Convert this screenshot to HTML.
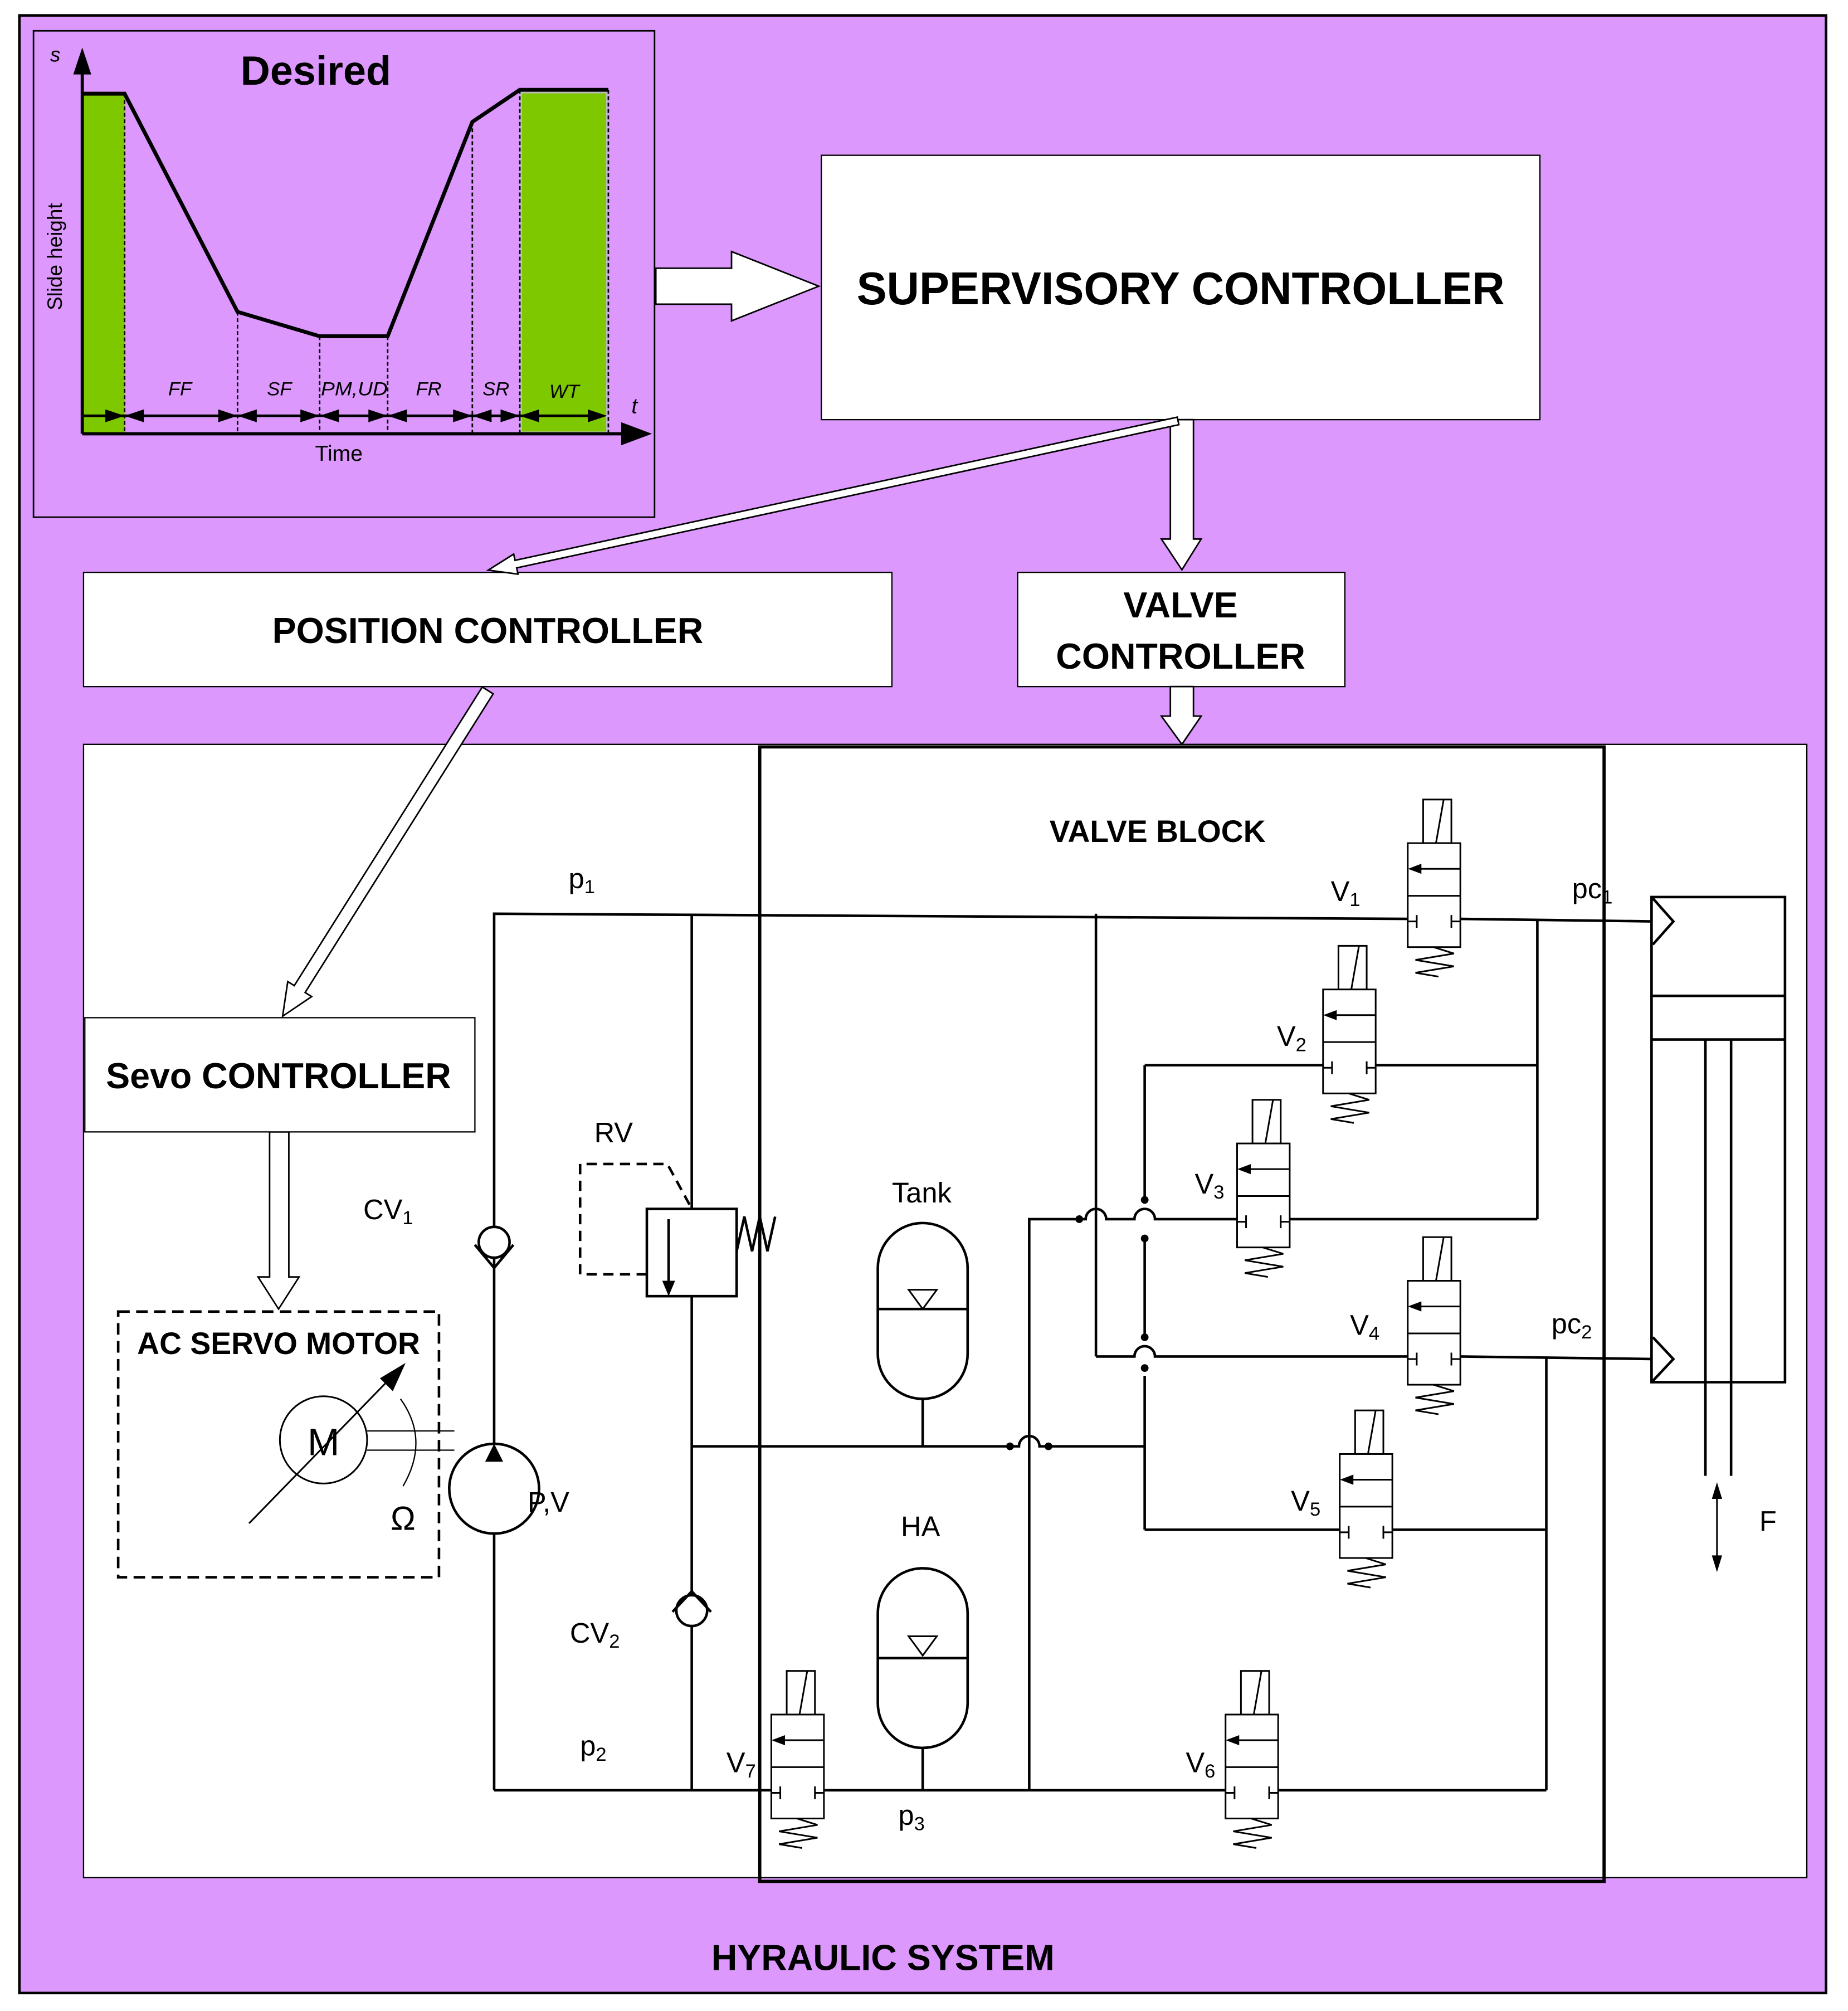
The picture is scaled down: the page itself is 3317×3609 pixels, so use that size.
<!DOCTYPE html>
<html><head><meta charset="utf-8"><style>
html,body{margin:0;padding:0;background:#fff}
svg{display:block}
text{font-family:"Liberation Sans",sans-serif}
.b{font-weight:bold}
</style></head><body>
<svg width="3317" height="3609" viewBox="0 0 1440 1567" xmlns="http://www.w3.org/2000/svg">
<defs>
<g id="valve" fill="#fff" stroke="#000" stroke-width="1.3">
<rect x="12" y="-34" width="22" height="34"/>
<line x1="28" y1="-34" x2="22" y2="0"/>
<rect x="0" y="0" width="41" height="81"/>
<line x1="0" y1="41" x2="41" y2="41"/>
<line x1="6" y1="20" x2="41" y2="20"/>
<polygon points="2,20 10,17 10,23" fill="#000"/>
<line x1="7" y1="56" x2="7" y2="66"/><line x1="34" y1="56" x2="34" y2="66"/>
<line x1="0" y1="61" x2="7" y2="61"/><line x1="34" y1="61" x2="41" y2="61"/>
<polyline fill="none" points="20,81 36,86 6,91 36,96 6,101 24,104"/>
</g>
</defs>
<rect x="0" y="0" width="1440" height="1567" fill="#fff"/>
<rect x="15" y="12" width="1408" height="1541" fill="#dc98fc" stroke="#000" stroke-width="2"/>
<!-- chart -->
<rect x="26" y="24" width="484" height="379" fill="#dc98fc" stroke="#000" stroke-width="1.2"/>
<rect x="64" y="73" width="33" height="264" fill="#7ec800"/>
<rect x="406" y="72" width="67" height="265" fill="#7ec800" stroke="#bbb" stroke-width="1.5"/>
<g stroke="#000" stroke-width="1.2" stroke-dasharray="3,2">
<line x1="97" y1="73" x2="97" y2="337"/><line x1="185" y1="243" x2="185" y2="337"/>
<line x1="249" y1="262" x2="249" y2="337"/><line x1="302" y1="262" x2="302" y2="337"/>
<line x1="368" y1="95" x2="368" y2="337"/><line x1="405" y1="70" x2="405" y2="337"/>
<line x1="474" y1="70" x2="474" y2="337"/>
</g>
<polyline points="64,73 97,73 185,243 249,262 302,262 368,95 405,70 474,70" fill="none" stroke="#000" stroke-width="3"/>
<line x1="64" y1="338" x2="490" y2="338" stroke="#000" stroke-width="2.5"/>
<polygon points="508,338 484,329 484,347"/>
<line x1="64" y1="338" x2="64" y2="55" stroke="#000" stroke-width="2.5"/>
<polygon points="64,37 57,58 71,58"/>
<line x1="64" y1="324" x2="470" y2="324" stroke="#000" stroke-width="2"/>
<g fill="#000">
<polygon points="97,324 82,319 82,329"/><polygon points="97,324 112,319 112,329"/>
<polygon points="185,324 170,319 170,329"/><polygon points="185,324 200,319 200,329"/>
<polygon points="249,324 234,319 234,329"/><polygon points="249,324 264,319 264,329"/>
<polygon points="302,324 287,319 287,329"/><polygon points="302,324 317,319 317,329"/>
<polygon points="368,324 353,319 353,329"/><polygon points="368,324 383,319 383,329"/>
<polygon points="405,324 390,319 390,329"/><polygon points="405,324 420,319 420,329"/>
<polygon points="473,324 458,319 458,329"/>
</g>
<g font-size="15" font-style="italic">
<text x="131" y="308">FF</text><text x="208" y="308">SF</text><text x="250" y="308" textLength="52" lengthAdjust="spacingAndGlyphs">PM,UD</text>
<text x="324" y="308">FR</text><text x="376" y="308">SR</text><text x="428" y="310">WT</text>
<text x="492" y="322" font-size="17">t</text><text x="39" y="48" font-size="16">s</text>
</g>
<text x="264" y="359" font-size="17" text-anchor="middle">Time</text>
<text transform="translate(48,200) rotate(-90)" font-size="16" text-anchor="middle">Slide height</text>
<text x="246" y="66" font-size="32" class="b" text-anchor="middle">Desired</text>
<!-- boxes -->
<rect x="640" y="121" width="560" height="206" fill="#fff" stroke="#000" stroke-width="1"/>
<text x="920" y="237" font-size="36" class="b" text-anchor="middle" textLength="505" lengthAdjust="spacingAndGlyphs">SUPERVISORY CONTROLLER</text>
<rect x="65" y="446" width="630" height="89" fill="#fff" stroke="#000" stroke-width="1"/>
<text x="380" y="501" font-size="28" class="b" text-anchor="middle">POSITION CONTROLLER</text>
<rect x="793" y="446" width="255" height="89" fill="#fff" stroke="#000" stroke-width="1"/>
<text x="920" y="481" font-size="28" class="b" text-anchor="middle">VALVE</text>
<text x="920" y="521" font-size="28" class="b" text-anchor="middle">CONTROLLER</text>
<!-- hollow arrows (top) -->
<g fill="#fff" stroke="#000" stroke-width="1.2">
<polygon points="511,209 570,209 570,196 638,223 570,250 570,237 511,237"/>
<polygon points="912,327 930,327 930,420 936,420 921,444 905,420 912,420"/>
<polygon points="912,535 930,535 930,558 936,558 921,580 905,558 912,558"/>
<polygon transform="translate(918,328) rotate(167.8)" points="0,-3 528,-3 528,-8 550,0 528,8 528,3 0,3"/>
</g>
<!-- hydraulic panel -->
<rect x="65" y="580" width="1343" height="883" fill="#fff" stroke="#000" stroke-width="1"/>
<rect x="592" y="582" width="658" height="884" fill="none" stroke="#000" stroke-width="2.5"/>
<text x="902" y="656" font-size="24" class="b" text-anchor="middle">VALVE BLOCK</text>
<g fill="#fff" stroke="#000" stroke-width="1.2">
<polygon transform="translate(380,538) rotate(122.2)" points="0,-5 275,-5 275,-11 300,0 275,11 275,5 0,5"/>
<polygon points="210,882 225,882 225,995 233,995 217,1020 201,995 210,995"/>
</g>
<rect x="66" y="793" width="304" height="89" fill="#fff" stroke="#000" stroke-width="1"/>
<text x="217" y="848" font-size="28" class="b" text-anchor="middle">Sevo CONTROLLER</text>
<rect x="92" y="1022" width="250" height="207" fill="none" stroke="#000" stroke-width="2" stroke-dasharray="9,5"/>
<text x="217" y="1055" font-size="24" class="b" text-anchor="middle">AC SERVO MOTOR</text>
<!-- motor -->
<circle cx="252" cy="1122" r="34" fill="#fff" stroke="#000" stroke-width="1.3"/>
<text x="252" y="1134" font-size="30" text-anchor="middle">M</text>
<line x1="194" y1="1187" x2="306" y2="1072" stroke="#000" stroke-width="1.3"/>
<polygon points="316,1062 296,1074 306,1084"/>
<line x1="286" y1="1115" x2="354" y2="1115" stroke="#000" stroke-width="1"/>
<line x1="286" y1="1130" x2="354" y2="1130" stroke="#000" stroke-width="1"/>
<path d="M312,1090 Q335,1122 314,1158" fill="none" stroke="#000" stroke-width="1"/>
<text x="314" y="1192" font-size="26" text-anchor="middle">Ω</text>
<!-- lines -->
<g stroke="#000" stroke-width="2" fill="none">
<polyline points="385,1395 385,712 1097,716"/>
<line x1="539" y1="712" x2="539" y2="1395"/>
<line x1="385" y1="1395" x2="1205" y2="1395"/>
<line x1="1138" y1="716" x2="1290" y2="718"/>
<line x1="1198" y1="716" x2="1198" y2="950"/>
<line x1="892" y1="830" x2="1031" y2="830"/><line x1="1072" y1="830" x2="1198" y2="830"/>
<line x1="892" y1="830" x2="892" y2="935"/><line x1="892" y1="965" x2="892" y2="1042"/><line x1="892" y1="1072" x2="892" y2="1192"/>
<line x1="1005" y1="950" x2="1198" y2="950"/>
<path d="M802,1395 L802,950 L846,950 A8,8 0 0 1 862,950 L884,950 A8,8 0 0 1 900,950 L964,950"/>
<line x1="854" y1="712" x2="854" y2="1057"/>
<path d="M854,1057 L884,1057 A8,8 0 0 1 900,1057 L1097,1057"/>
<line x1="1138" y1="1057" x2="1290" y2="1059"/>
<line x1="1205" y1="1057" x2="1205" y2="1395"/>
<line x1="892" y1="1192" x2="1044" y2="1192"/><line x1="1085" y1="1192" x2="1205" y2="1192"/>
<path d="M539,1127 L794,1127 A8,8 0 0 1 810,1127 L892,1127"/>
<line x1="719" y1="1090" x2="719" y2="1127"/>
<line x1="719" y1="1362" x2="719" y2="1395"/>
</g>
<g fill="#000"><circle cx="841" cy="950" r="3"/><circle cx="892" cy="935" r="3"/><circle cx="892" cy="965" r="3"/>
<circle cx="892" cy="1042" r="3"/><circle cx="892" cy="1066" r="3"/><circle cx="817" cy="1127" r="3"/><circle cx="787" cy="1127" r="3"/></g>
<!-- tanks -->
<g fill="#fff" stroke="#000" stroke-width="2">
<path d="M684,988 A35,35 0 0 1 754,988 L754,1055 A35,35 0 0 1 684,1055 Z"/>
<line x1="684" y1="1020" x2="754" y2="1020"/>
<polygon points="708,1005 730,1005 719,1020" stroke-width="1.3"/>
<path d="M684,1257 A35,35 0 0 1 754,1257 L754,1327 A35,35 0 0 1 684,1327 Z"/>
<line x1="684" y1="1292" x2="754" y2="1292"/>
<polygon points="708,1275 730,1275 719,1290" stroke-width="1.3"/>
</g>
<!-- valves -->
<use href="#valve" x="1097" y="657"/>
<use href="#valve" x="1031" y="771"/>
<use href="#valve" x="964" y="891"/>
<use href="#valve" x="1097" y="998"/>
<use href="#valve" x="1044" y="1133"/>
<use href="#valve" x="955" y="1336"/>
<use href="#valve" x="601" y="1336"/>
<!-- pump, checks, RV -->
<g fill="#fff" stroke="#000" stroke-width="2">
<circle cx="385" cy="1160" r="35"/>
<circle cx="385" cy="968" r="12"/>
<circle cx="539" cy="1255" r="12"/>
<rect x="504" y="942" width="70" height="68"/>
</g>
<polygon points="385,1125 378,1139 392,1139"/>
<g stroke="#000" stroke-width="2" fill="none">
<polyline points="370,970 385,988 400,970"/>
<polyline points="524,1256 539,1240 554,1256"/>
<polyline points="574,975 580,948 586,975 592,948 598,975 604,948"/>
<line x1="521" y1="950" x2="521" y2="1003"/>
</g>
<polygon points="521,1010 516,998 526,998"/>
<path d="M504,993 L452,993 L452,907 L520,907 L538,940" fill="none" stroke="#000" stroke-width="2" stroke-dasharray="8,5"/>
<!-- cylinder -->
<g stroke="#000" stroke-width="2" fill="none">
<rect x="1287" y="699" width="104" height="378" fill="#fff"/>
<line x1="1287" y1="776" x2="1391" y2="776"/><line x1="1287" y1="810" x2="1391" y2="810"/>
<line x1="1329" y1="810" x2="1329" y2="1150"/><line x1="1349" y1="810" x2="1349" y2="1150"/>
<polyline points="1288,700 1304,718 1288,736"/>
<polyline points="1288,1042 1304,1059 1288,1076"/>
<line x1="1338" y1="1160" x2="1338" y2="1220" stroke-width="1.3"/>
</g>
<polygon points="1338,1155 1334,1168 1342,1168"/><polygon points="1338,1225 1334,1212 1342,1212"/>
<!-- labels -->
<g font-size="22">
<text x="443" y="692">p<tspan font-size="15" dy="4">1</tspan></text>
<text x="1037" y="702">V<tspan font-size="15" dy="4">1</tspan></text>
<text x="1225" y="700">pc<tspan font-size="15" dy="4">1</tspan></text>
<text x="995" y="815">V<tspan font-size="15" dy="4">2</tspan></text>
<text x="931" y="930">V<tspan font-size="15" dy="4">3</tspan></text>
<text x="1052" y="1040">V<tspan font-size="15" dy="4">4</tspan></text>
<text x="1209" y="1039">pc<tspan font-size="15" dy="4">2</tspan></text>
<text x="1006" y="1177">V<tspan font-size="15" dy="4">5</tspan></text>
<text x="924" y="1381">V<tspan font-size="15" dy="4">6</tspan></text>
<text x="566" y="1381">V<tspan font-size="15" dy="4">7</tspan></text>
<text x="283" y="950">CV<tspan font-size="15" dy="4">1</tspan></text>
<text x="444" y="1280">CV<tspan font-size="15" dy="4">2</tspan></text>
<text x="452" y="1368">p<tspan font-size="15" dy="4">2</tspan></text>
<text x="700" y="1422">p<tspan font-size="15" dy="4">3</tspan></text>
<text x="463" y="890">RV</text>
<text x="695" y="937">Tank</text>
<text x="702" y="1197">HA</text>
<text x="411" y="1178">P,V</text>
<text x="1371" y="1193">F</text>
</g>
<text x="688" y="1535" font-size="28" class="b" text-anchor="middle">HYRAULIC SYSTEM</text>
</svg>
</body></html>
